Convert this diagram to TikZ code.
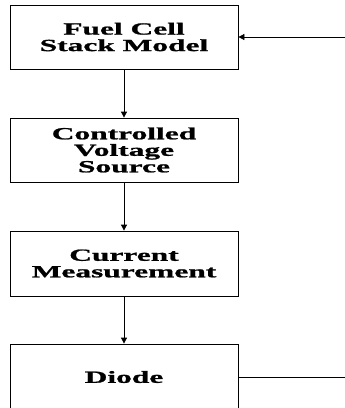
\documentclass[tikz,border=0pt]{standalone}
\usepackage{fontspec}
\usetikzlibrary{arrows.meta}
\newfontfamily\boxfont{Liberation Serif}[FakeStretch=1.85,FakeBold=1.2]
\begin{document}
\begin{tikzpicture}[x=1pt,y=1pt,
  blockbox/.style={draw, line width=0.8pt, minimum width=228pt, inner sep=0pt, align=center,
    font=\boxfont\bfseries\fontsize{17}{16.5}\selectfont},
  conn/.style={line width=0.8pt, -{Triangle[length=6pt,width=6pt]}},
  plain/.style={line width=0.8pt}]
\useasboundingbox (0,0) rectangle (345,-408);
\clip (0,0) rectangle (345,-408);
\node[blockbox, minimum height=64pt] (b1) at (124,-37) {Fuel Cell\\Stack Model};
\node[blockbox, minimum height=64pt] (b2) at (124,-150) {Controlled\\Voltage\\Source};
\node[blockbox, minimum height=65pt] (b3) at (124,-263.5) {Current\\Measurement};
\node[blockbox, minimum height=66pt] (b4) at (124,-377) {Diode};
\coordinate (inR) at (345,-37);
\coordinate (outR) at (345,-377);
\draw[conn] (b1) -- (b2);
\draw[conn] (b2) -- (b3);
\draw[conn] (b3) -- (b4);
\draw[conn] (inR) -- (b1.east);
\draw[plain] (b4.east) -- (outR);
\end{tikzpicture}
\end{document}
